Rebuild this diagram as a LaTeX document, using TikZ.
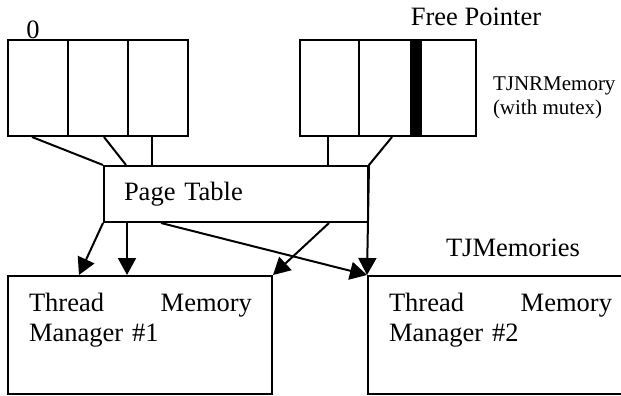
\documentclass[tikz,border=0pt]{standalone}
\usepackage{fontspec}
\setmainfont{Liberation Serif}
\usetikzlibrary{arrows.meta}

\begin{document}
\begin{tikzpicture}[x=1pt,y=-1pt,line width=2pt,>={Triangle[length=17pt,width=18pt]},
  every node/.style={font=\fontsize{26.5}{30}\selectfont},
  cell/.style={draw,minimum width=60pt,minimum height=96pt,inner sep=0pt},
  mgr/.style={draw,minimum width=264pt,minimum height=118pt,inner sep=0pt},
  mgrtext/.style={anchor=north west,text width=223pt,align=left,inner sep=0pt}]
\pgfmathsetmacro\cw{176/3}
\path[use as bounding box] (0,0) rectangle (621,396);
\clip (0,0) rectangle (621,396);

% memory blocks
\foreach \i in {1,2,3} {
  \node[cell] (l\i) at (8+60*\i-30,88) {};
  \node[cell,minimum width=\cw pt] (r\i) at (300+\cw*\i-\cw/2,88) {};
}
\node[fill=black,minimum width=12pt,minimum height=96pt,inner sep=0pt] (fp) at (416,88) {};
\node[anchor=base] (zero) at (33,39) {0};
\node[anchor=base] (fptxt) at (476,26) {Free Pointer};
\node[anchor=north west,align=left,inner sep=0pt,font=\fontsize{21}{24}\selectfont] (nr) at (492,76) {TJNRMemory\\(with mutex)};

\node[draw,text width=224pt,inner xsep=20pt,inner ysep=0pt,minimum height=56pt,align=left] (pt) at (236,194) {Page Table};

\node[mgr] (tm1) at (140,335) {};
\node[mgr] (tm2) at (500,335) {};
\node[mgrtext] (tm1t) at ([shift={(21,17)}]tm1.north west) {Thread\hfill Memory\\Manager \#1};
\node[mgrtext] (tm2t) at ([shift={(21,17)}]tm2.north west) {Thread\hfill Memory\\Manager \#2};
\node[anchor=base] (tjm) at (513,256) {TJMemories};

\draw ([xshift=-6pt]l1.south) -- (pt.north west);
\draw ([xshift=6pt]l2.south) -- ([xshift=23pt]pt.north west);
\draw ([xshift=-6pt]l3.south) coordinate (a3) -- (a3 |- pt.north);
\draw ([xshift=-1pt]r1.south) coordinate (b1) -- (b1 |- pt.north);
\draw[->] ([xshift=4pt]r2.south) -- (pt.north east) -- (tm2.north west);

\draw[->] (pt.south west) -- ([xshift=72pt]tm1.north west);
\draw[->] ([xshift=24pt]pt.south west) coordinate (c2) -- (c2 |- tm1.north);
\draw[->] ([xshift=58pt]pt.south west) -- (tm2.north west);
\draw[->] ([xshift=-40pt]pt.south east) -- (tm1.north east);
\end{tikzpicture}
\end{document}
